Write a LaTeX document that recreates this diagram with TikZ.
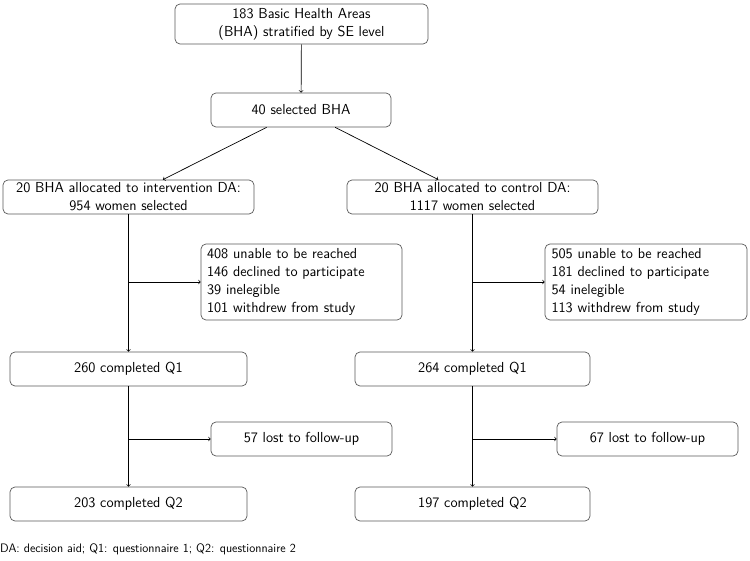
\documentclass[tikz,border=0pt]{standalone}
\renewcommand{\familydefault}{\sfdefault}
\begin{document}
\begin{tikzpicture}[x=1pt,y=-1pt,
  box/.style={draw=black!65, rounded corners=5pt, line width=0.7pt, align=center,
    font=\fontsize{14.5}{18}\selectfont, inner sep=0pt},
  exbox/.style={draw=black!65, rounded corners=5pt, line width=0.7pt, align=left,
    font=\fontsize{14.5}{18}\selectfont, inner sep=0pt, text width=189pt},
  arr/.style={->, line width=0.7pt}]
\useasboundingbox (0,0) rectangle (750,561);
\node[box, minimum width=253pt, minimum height=40pt] (top) at (301.5,24) {183 Basic Health Areas\\(BHA) stratified by SE level};
\node[box, minimum width=180pt, minimum height=34pt] (sel) at (301,110) {40 selected BHA};
\node[box, minimum width=251pt, minimum height=34pt] (lal) at (128.5,197) {20 BHA allocated to intervention DA:\\954 women selected};
\node[box, minimum width=251pt, minimum height=34pt] (ral) at (472.5,197) {20 BHA allocated to control DA:\\1117 women selected};
\node[exbox, minimum width=201pt, minimum height=76pt] (lex) at (301.5,282) {408 unable to be reached\\146 declined to participate\\39 inelegible\\101 withdrew from study};
\node[exbox, minimum width=202pt, minimum height=76pt] (rex) at (646,282) {505 unable to be reached\\181 declined to participate\\54 inelegible\\113 withdrew from study};
\node[box, minimum width=237pt, minimum height=34pt] (lq1) at (128.5,369) {260 completed Q1};
\node[box, minimum width=235pt, minimum height=34pt] (rq1) at (472.5,369) {264 completed Q1};
\node[box, minimum width=181pt, minimum height=34pt] (llost) at (301.5,439) {57 lost to follow-up};
\node[box, minimum width=181pt, minimum height=34pt] (rlost) at (647.5,439) {67 lost to follow-up};
\node[box, minimum width=237pt, minimum height=34pt] (lq2) at (128.5,504) {203 completed Q2};
\node[box, minimum width=235pt, minimum height=34pt] (rq2) at (472.5,504) {197 completed Q2};
\node[anchor=west, inner sep=0pt, font=\fontsize{12.3}{14}\selectfont] (note) at (0,549) {DA: decision aid; Q1: questionnaire 1; Q2: questionnaire 2};
\draw[arr] (top) -- (sel);
\draw[arr] (sel) -- (lal);
\draw[arr] (sel) -- (ral);
\draw[arr] (lal) -- (lq1);
\draw[arr] (ral) -- (rq1);
\draw[arr] (lq1) -- (lq2);
\draw[arr] (rq1) -- (rq2);
\coordinate (lb1) at (lal.south |- lex.west);
\coordinate (rb1) at (ral.south |- rex.west);
\coordinate (lb2) at (lq1.south |- llost.west);
\coordinate (rb2) at (rq1.south |- rlost.west);
\draw[arr] (lb1) -- (lex.west);
\draw[arr] (rb1) -- (rex.west);
\draw[arr] (lb2) -- (llost.west);
\draw[arr] (rb2) -- (rlost.west);
\end{tikzpicture}
\end{document}
